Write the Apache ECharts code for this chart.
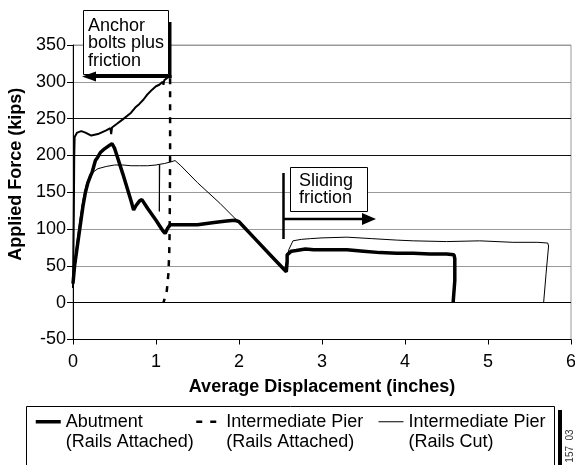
<!DOCTYPE html>
<html>
<head>
<meta charset="utf-8">
<script src="https://cdn.jsdelivr.net/npm/echarts@6/dist/echarts.min.js"></script>
<style>
html,body{margin:0;padding:0;background:#fff;}
#mychart{width:575px;height:465px;}
</style>
</head>
<body>
<div id="mychart"></div>
<script>
// 数据 [位移(inches), 力(kips)]
const abutment = [
  [0, 26], [0.02, 51], [0.05, 75], [0.08, 99], [0.12, 131], [0.15, 150], [0.18, 163], [0.21, 172],
  [0.23, 177], [0.25, 185], [0.27, 193], [0.3, 198], [0.33, 204], [0.38, 209], [0.43, 213], [0.47, 216],
  [0.5, 210], [0.6, 175], [0.7, 138], [0.73, 126], [0.76, 132], [0.8, 138], [0.83, 140], [0.9, 128],
  [1.0, 112], [1.08, 98], [1.11, 94], [1.14, 101], [1.17, 106], [1.3, 106], [1.5, 106], [1.7, 109],
  [1.85, 111], [1.95, 112], [2.0, 110], [2.2, 86], [2.4, 62], [2.57, 42], [2.58, 55], [2.58, 65],
  [2.63, 70], [2.69, 71], [2.8, 73], [2.9, 72], [3.1, 72], [3.3, 72], [3.5, 70], [3.7, 68],
  [3.9, 67], [4.1, 67], [4.3, 66], [4.5, 66], [4.59, 65], [4.6, 60], [4.6, 30], [4.58, 0]
];
// Intermediate Pier (Rails Attached): 上升段(图中看起来是实线) + 卸载段(虚线)
const pierAttachedRise = [
  [0, 20], [0.01, 120], [0.015, 200], [0.02, 225], [0.05, 231], [0.1, 233], [0.15, 231], [0.22, 227],
  [0.3, 229], [0.4, 234], [0.45, 237], [0.46, 229], [0.47, 238], [0.53, 243], [0.6, 249], [0.7, 258],
  [0.75, 265], [0.8, 270], [0.85, 276], [0.89, 282], [0.95, 289], [1.0, 294], [1.04, 296], [1.08, 300],
  [1.09, 296], [1.1, 302], [1.13, 305], [1.16, 307], [1.17, 305]
];
const pierAttachedDrop = [
  [1.17, 305], [1.17, 200], [1.165, 100], [1.16, 70], [1.15, 40], [1.13, 16], [1.09, 0]
];
const railsCut = [
  [0, 26], [0.02, 55], [0.05, 85], [0.08, 110], [0.12, 140], [0.16, 160], [0.2, 172], [0.25, 178],
  [0.3, 182], [0.4, 185], [0.5, 187], [0.6, 187], [0.7, 186], [0.8, 186], [0.9, 186], [1.0, 187],
  [1.04, 188], [1.04, 124], [1.045, 188], [1.1, 189], [1.17, 191], [1.23, 193], [1.3, 186], [1.5, 163],
  [1.77, 135], [2.0, 109], [2.3, 74], [2.55, 46], [2.57, 48], [2.58, 60], [2.6, 72], [2.65, 84],
  [2.75, 86], [2.86, 87], [3.0, 88], [3.3, 89], [3.6, 87], [3.9, 85], [4.1, 84], [4.5, 83],
  [4.9, 84], [5.3, 82], [5.6, 82], [5.72, 81], [5.73, 77], [5.7, 40], [5.67, 0]
];
const seriesNames = ['Abutment (Rails Attached)', 'Intermediate Pier (Rails Attached)', 'Intermediate Pier (Rails Cut)'];
const xTitle = 'Average Displacement (inches)';
const yTitle = 'Applied Force (kips)';

const font = 'Liberation Sans, Arial, sans-serif';
const myEcharts = echarts.init(document.getElementById('mychart'));

const legendBase = {
  top: 391,
  padding: 0,
  itemWidth: 25,
  itemHeight: 14,
  selectedMode: false,
  itemStyle: { opacity: 0 },   // 只要线, 不要中间的圆点
  textStyle: { fontFamily: font, fontSize: 18, lineHeight: 20.5, color: '#000' },
  formatter: name => '\n' + name.replace(' (', '\n(')
};

const option = {
  animation: false,
  backgroundColor: '#fff',
  textStyle: { fontFamily: font },
  grid: {
    left: 73, right: 4, top: 45, bottom: 125.5,
    show: true, borderColor: '#999', borderWidth: 1,
    containLabel: false, outerBoundsMode: 'none'
  },
  legend: [
    Object.assign({}, legendBase, { left: 34, data: [seriesNames[0]],
      lineStyle: { color: '#000', width: 3.5, type: 'solid' } }),
    Object.assign({}, legendBase, { left: 195, data: [seriesNames[1]],
      lineStyle: { color: '#000', width: 2.5, type: [6, 8] } }),
    Object.assign({}, legendBase, { left: 378, data: [seriesNames[2]],
      lineStyle: { color: '#000', width: 1, type: 'solid' } })
  ],
  xAxis: {
    type: 'value',
    min: 0, max: 6, interval: 1,
    name: xTitle,
    nameLocation: 'middle',
    nameGap: 39,
    nameTextStyle: { fontFamily: font, fontSize: 18, fontWeight: 'bold', color: '#000' },
    axisLine: { onZero: false, lineStyle: { color: '#000', width: 1 } },
    axisTick: { show: true, length: 5, lineStyle: { color: '#000' } },
    axisLabel: { fontFamily: font, fontSize: 18, color: '#000', margin: 14 },
    splitLine: { show: false }
  },
  yAxis: {
    type: 'value',
    min: -50, max: 350, interval: 50,
    name: yTitle,
    nameLocation: 'middle',
    nameGap: 45,
    nameTextStyle: { fontFamily: font, fontSize: 18, fontWeight: 'bold', color: '#000', padding: [0, 0, 0, 36] },
    axisLine: { show: true, lineStyle: { color: '#000', width: 1 } },
    axisTick: { show: true, length: 6, lineStyle: { color: '#000' } },
    axisLabel: { fontFamily: font, fontSize: 18, color: '#000', margin: 7 },
    splitLine: {
      show: true,
      lineStyle: { color: ['#000', '#000', '#999', '#999', '#999', '#111', '#111', '#999', '#999'], width: 1 }
    }
  },
  series: [
    {
      name: seriesNames[1], type: 'line', data: pierAttachedDrop,
      symbol: 'none', color: '#000', z: 3,
      lineStyle: { color: '#000', width: 2.5, type: [6, 7] }
    },
    {
      name: seriesNames[1], type: 'line', data: pierAttachedRise,
      symbol: 'none', color: '#000', z: 3,
      lineStyle: { color: '#000', width: 2 }
    },
    {
      name: seriesNames[2], type: 'line', data: railsCut,
      symbol: 'none', color: '#000', z: 2,
      lineStyle: { color: '#000', width: 1 }
    },
    {
      name: seriesNames[0], type: 'line', data: abutment,
      symbol: 'none', color: '#000', z: 4,
      lineStyle: { color: '#000', width: 3.5 }
    }
  ],
  graphic: [
    // 图例外框 + 阴影
    { type: 'rect', z: 0, silent: true, shape: { x: 26.5, y: 406.5, width: 528, height: 70 },
      style: { fill: '#fff', stroke: '#000', lineWidth: 1 } },
    { type: 'rect', z: 0, silent: true, shape: { x: 558, y: 410, width: 4, height: 60 },
      style: { fill: '#000' } },
    { type: 'text', z: 100, silent: true, x: 570, y: 446, rotation: Math.PI / 2,
      style: { text: '157  03', fontFamily: font, fontSize: 10, fill: '#333', align: 'center', verticalAlign: 'middle' } },
    // Anchor bolts plus friction
    { type: 'rect', z: 100, silent: true, shape: { x: 83.5, y: 10.5, width: 85, height: 64 },
      style: { fill: '#fff', stroke: '#000', lineWidth: 1 } },
    { type: 'text', z: 101, silent: true, x: 88, y: 17,
      style: { text: 'Anchor\nbolts plus\nfriction', fontFamily: font, fontSize: 18, lineHeight: 17.5, fill: '#000' } },
    { type: 'line', z: 101, silent: true, shape: { x1: 170, y1: 22, x2: 170, y2: 78 },
      style: { stroke: '#000', lineWidth: 3 } },
    { type: 'line', z: 101, silent: true, shape: { x1: 171.5, y1: 76.5, x2: 94, y2: 76.5 },
      style: { stroke: '#000', lineWidth: 3 } },
    { type: 'polygon', z: 101, silent: true, shape: { points: [[82, 76.5], [96, 71.5], [96, 81.5]] },
      style: { fill: '#000' } },
    // Sliding friction
    { type: 'rect', z: 100, silent: true, shape: { x: 290.5, y: 167.5, width: 77, height: 44 },
      style: { fill: '#fff', stroke: '#000', lineWidth: 1 } },
    { type: 'text', z: 101, silent: true, x: 299, y: 173,
      style: { text: 'Sliding\nfriction', fontFamily: font, fontSize: 18, lineHeight: 17, fill: '#000' } },
    { type: 'line', z: 101, silent: true, shape: { x1: 283.5, y1: 173, x2: 283.5, y2: 239 },
      style: { stroke: '#000', lineWidth: 2.5 } },
    { type: 'line', z: 101, silent: true, shape: { x1: 283, y1: 219, x2: 364, y2: 219 },
      style: { stroke: '#000', lineWidth: 2.5 } },
    { type: 'polygon', z: 101, silent: true, shape: { points: [[376, 219], [362, 213], [362, 225]] },
      style: { fill: '#000' } }
  ]
};

myEcharts.setOption(option);
</script>
</body>
</html>
